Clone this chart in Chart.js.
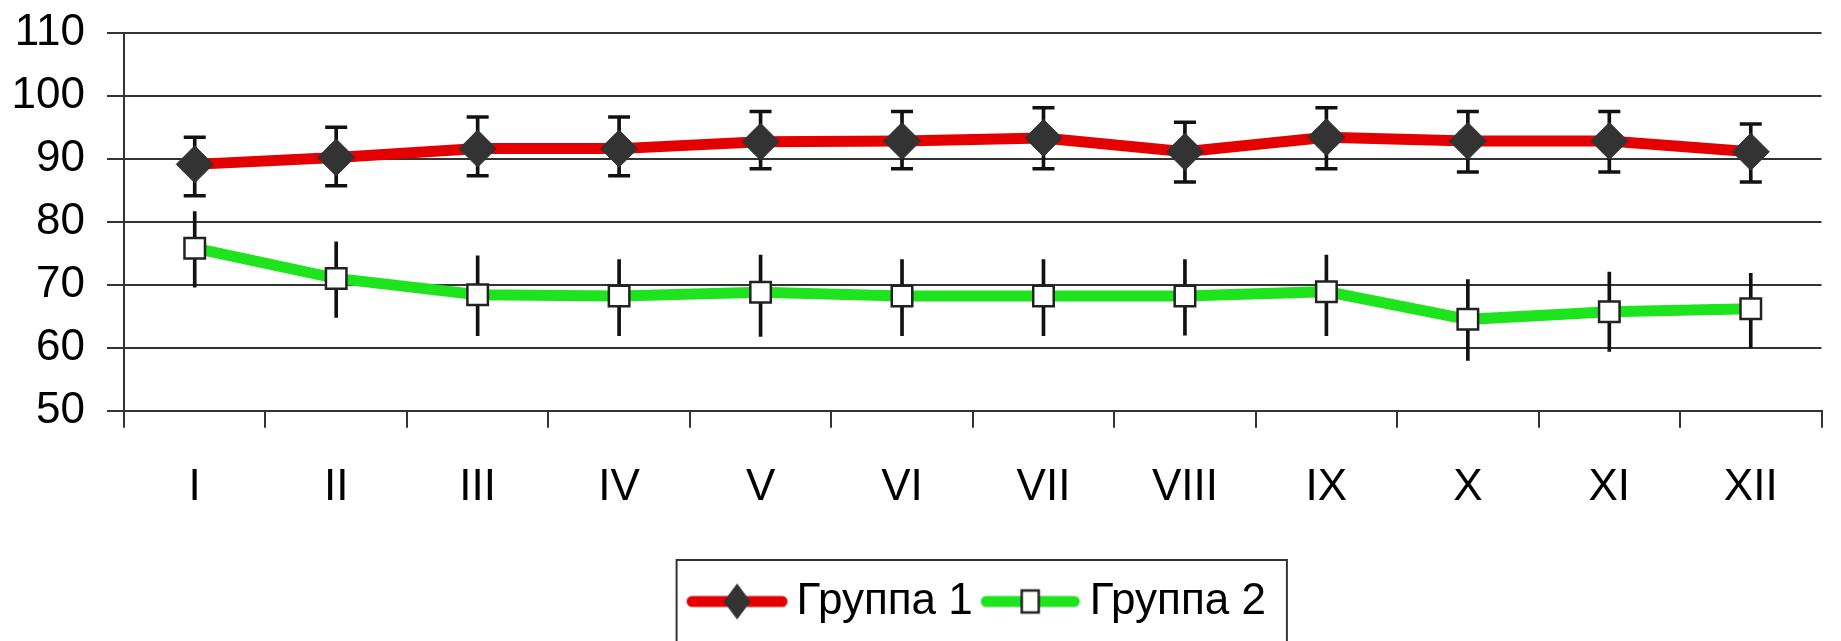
<!DOCTYPE html>
<html>
<head>
<meta charset="utf-8">
<script src="https://cdn.jsdelivr.net/npm/chart.js@4.4.1/dist/chart.umd.min.js"></script>
<style>
html,body{margin:0;padding:0;background:#ffffff;}
#wrap{width:1841px;height:641px;}
</style>
</head>
<body>
<div id="wrap"><canvas id="c" width="1841" height="641"></canvas></div>
<script>
// ---- data ----
const categories = ['I','II','III','IV','V','VI','VII','VIII','IX','X','XI','XII'];
const seriesNames = ['Группа 1','Группа 2'];
const group1      = [89.1, 90.2, 91.6, 91.6, 92.7, 92.8, 93.3, 91.1, 93.4, 92.8, 92.8, 91.1];
const group1Upper = [93.4, 95.0, 96.6, 96.6, 97.5, 97.5, 98.1, 95.8, 98.1, 97.5, 97.5, 95.5];
const group1Lower = [84.1, 85.7, 87.3, 87.3, 88.4, 88.4, 88.4, 86.3, 88.4, 87.9, 87.9, 86.3];
const group2      = [75.8, 71.0, 68.4, 68.2, 68.8, 68.2, 68.2, 68.2, 68.9, 64.5, 65.7, 66.2];
const group2Upper = [81.6, 76.8, 74.6, 74.0, 74.7, 74.0, 74.0, 74.0, 74.7, 70.8, 72.0, 71.8];
const group2Lower = [69.6, 64.8, 61.9, 61.9, 61.8, 61.9, 61.9, 62.0, 61.9, 58.0, 59.4, 60.0];
const yMin = 50, yMax = 110, yStep = 10;

// ---- styles ----
const FONT = "'Liberation Sans', Arial, sans-serif";
const RED = '#e40000';
const GREEN = '#1ee41e';
const GRID = '#333333';
const MARK = '#333333';

function legendImage(kind) {
  const cv = document.createElement('canvas');
  cv.width = 102; cv.height = 42;
  const g = cv.getContext('2d');
  g.lineCap = 'round';
  g.lineWidth = 11;
  g.strokeStyle = kind === 1 ? RED : GREEN;
  g.beginPath();
  if (kind === 1) { g.moveTo(6, 21); g.lineTo(96, 21); }
  else { g.moveTo(7, 21); g.lineTo(95, 21); }
  g.stroke();
  if (kind === 1) {
    g.fillStyle = MARK;
    g.beginPath();
    g.moveTo(51, 3); g.lineTo(64.5, 21); g.lineTo(51, 39); g.lineTo(37.5, 21);
    g.closePath(); g.fill();
  } else {
    g.fillStyle = '#ffffff';
    g.fillRect(42.5, 10, 17, 22);
    g.lineWidth = 2.5; g.strokeStyle = '#222';
    g.strokeRect(42.5, 10, 17, 22);
  }
  return cv;
}
const legendImgs = [legendImage(1), legendImage(2)];

const legendFrame = {
  id: 'legendFrame',
  afterLayout(chart) {
    const lg = chart.legend;
    if (lg) { lg.left += 10; lg.right += 10; }
  },
  afterDraw(chart) {
    const lg = chart.legend;
    if (!lg || !lg.legendHitBoxes || lg.legendHitBoxes.length < 2) return;
    const hb = lg.legendHitBoxes;
    const mid = hb[0].top + hb[0].height / 2;
    const left = hb[0].left - 23;
    const right = hb[1].left + hb[1].width + 21;
    const top = mid - 41.5;
    const ctx = chart.ctx;
    ctx.save();
    ctx.strokeStyle = GRID;
    ctx.lineWidth = 2;
    ctx.strokeRect(left, top, right - left, chart.height - top + 20);
    ctx.restore();
  }
};

const ctx = document.getElementById('c').getContext('2d');
new Chart(ctx, {
  data: {
    labels: categories,
    datasets: [
      {
        type: 'line', label: seriesNames[0], data: group1,
        borderColor: RED, borderWidth: 11, tension: 0, fill: false,
        pointStyle: 'rectRot', pointRadius: 18.5, pointBackgroundColor: MARK,
        pointBorderColor: MARK, pointBorderWidth: 1, order: 1
      },
      {
        type: 'line', label: seriesNames[1], data: group2,
        borderColor: GREEN, borderWidth: 11, tension: 0, fill: false,
        pointStyle: 'rect', pointRadius: 14.5, pointBackgroundColor: '#ffffff',
        pointBorderColor: '#222222', pointBorderWidth: 2.5, order: 2
      },
      {
        type: 'bar', label: 'err1', data: group1Lower.map((l, i) => [l, group1Upper[i]]),
        backgroundColor: '#111111', borderWidth: 0, barThickness: 3, grouped: false, order: 6
      },
      {
        type: 'bar', label: 'err2', data: group2Lower.map((l, i) => [l, group2Upper[i]]),
        backgroundColor: '#111111', borderWidth: 0, barThickness: 3, grouped: false, order: 6
      },
      {
        type: 'line', label: 'cap1u', data: group1Upper, showLine: false,
        pointStyle: 'line', pointRadius: 11, pointBorderWidth: 3.5, pointBorderColor: '#111111', order: 5
      },
      {
        type: 'line', label: 'cap1l', data: group1Lower, showLine: false,
        pointStyle: 'line', pointRadius: 11, pointBorderWidth: 3.5, pointBorderColor: '#111111', order: 5
      }
    ]
  },
  options: {
    responsive: false,
    maintainAspectRatio: false,
    animation: false,
    events: [],
    layout: { padding: { top: 32.7, left: 0, right: 2, bottom: 7.5 } },
    scales: {
      x: {
        type: 'category',
        offset: true,
        grid: { offset: true, drawOnChartArea: false, drawTicks: true, tickLength: 17, color: GRID, lineWidth: 2 },
        border: { display: true, color: GRID, width: 2 },
        ticks: { color: '#000', font: { family: FONT, size: 44 }, padding: 34, maxRotation: 0, autoSkip: false },
        afterFit(s) { s.height = 148.8; s.paddingLeft = 0; s.paddingRight = 0; }
      },
      y: {
        min: yMin, max: yMax,
        grid: { color: GRID, lineWidth: 2, tickLength: 17, drawTicks: true },
        border: { display: true, color: GRID, width: 2 },
        ticks: { stepSize: yStep, autoSkip: false, color: '#000', font: { family: FONT, size: 44 }, padding: 22 },
        afterFit(s) { s.width = 124; s.paddingTop = 0; s.paddingBottom = 0; }
      }
    },
    plugins: {
      tooltip: { enabled: false },
      legend: {
        display: true, position: 'bottom', fullSize: false, align: 'center',
        labels: {
          usePointStyle: true, pointStyleWidth: 75, padding: 20,
          color: '#000', font: { family: FONT, size: 44 },
          generateLabels() {
            return seriesNames.map((n, i) => ({
              text: n, datasetIndex: i, pointStyle: legendImgs[i],
              fillStyle: '#000', strokeStyle: 'rgba(0,0,0,0)', lineWidth: 0, hidden: false, fontColor: '#000'
            }));
          }
        }
      }
    }
  },
  plugins: [legendFrame]
});
</script>
</body>
</html>
